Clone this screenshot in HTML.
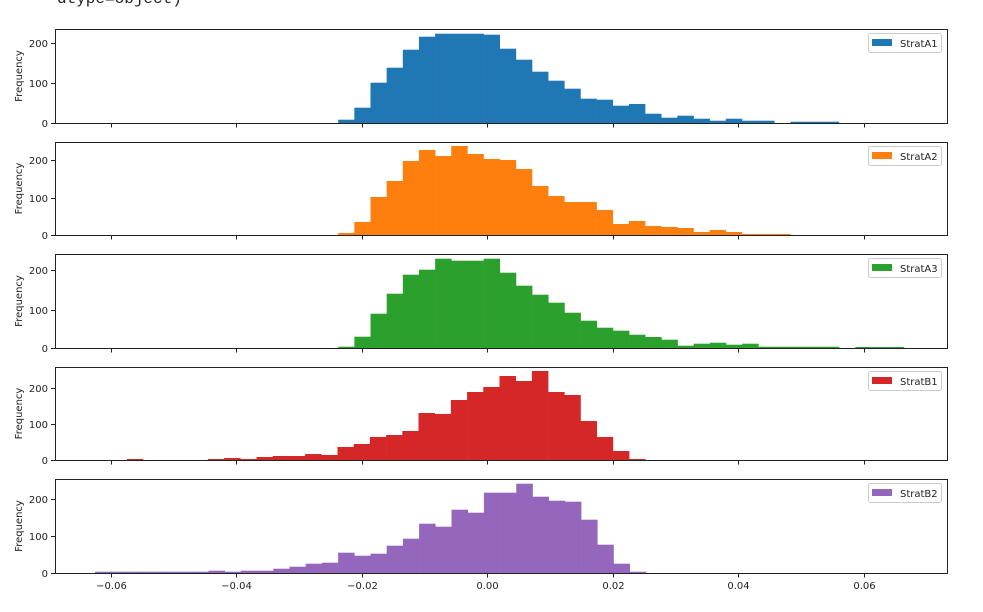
<!DOCTYPE html>
<html><head><meta charset="utf-8"><style>
body{margin:0;background:#fff;}
svg text{font-family:"DejaVu Sans","Liberation Sans",sans-serif;}
</style></head><body>
<svg id="s" width="983" height="607" xmlns="http://www.w3.org/2000/svg">
<text x="57" y="3" style="font-family:'Liberation Mono','DejaVu Sans Mono',monospace" font-size="16" fill="#222">dtype=object)</text>
</svg>
<script>
const s=document.getElementById('s');
const X=v=>487+v*6275;
const P=[
 {t:29,b:123,c:'#1f77b4',n:'StratA1',x0:338.2,w:16.15,y100:83,y200:43,
  h:[3.3,15.3,40.3,55.3,73.3,86.3,89.3,89.3,89.3,88.3,74.3,63.3,51.3,42.3,34.3,24.3,23.3,17.3,19,9.3,5.3,7.3,4.3,2.3,4.3,2.3,2.3,0,1.3,1.3,1.3]},
 {t:142,b:235,c:'#ff7f0e',n:'StratA2',x0:338.2,w:16.15,y100:198,y200:160,
  h:[2,13,38,54,74,85,79,89,81,76,75,66,49,39,33,33,25,11,14,9,8,7,3,5,3,1,1,1]},
 {t:254,b:348,c:'#2ca02c',n:'StratA3',x0:338.2,w:16.16,y100:310,y200:270,
  h:[1.3,11.3,34.3,54.3,73.3,78.3,89.3,87.3,87.3,89.3,75.3,62.3,53.3,45.3,35.3,27.3,20.3,17.3,13.3,11,8.3,2.3,4.3,5.3,3.3,4.3,1.3,1.3,1.3,1.3,1.3,0,1,1,1]},
 {t:367,b:460,c:'#d62728',n:'StratB1',x0:126.9,w:16.2,y100:424,y200:388,
  h:[1,0,0,0,0,1,2,1,3,4,4,6,5,13,16,23,25,29,47,46,60,68,73,84,79,89,68,65,39,23,9,1]},
 {t:479,b:573,c:'#9467bd',n:'StratB2',x0:95.1,w:16.2,y100:536,y200:499,
  h:[1.3,1.3,1.3,1.3,1.3,1.3,1.3,2.3,1.3,2.3,2.3,4.3,6.3,9.3,10.3,20.3,17.3,19.3,27.3,34.3,49.3,46.3,63.3,60.3,80.3,80.3,89.3,76.3,72.3,71.3,53.3,28.3,9.3,1.3]}
];
let out='';
P.forEach((p,i)=>{
 p.h.forEach((h,k)=>{if(h>0)out+=`<rect x="${(p.x0+k*p.w).toFixed(2)}" y="${(p.b-h).toFixed(2)}" width="${(p.w+0.3).toFixed(2)}" height="${h}" fill="${p.c}"/>`;});
 out+=`<rect x="55.5" y="${p.t+.5}" width="892" height="${p.b-p.t}" fill="none" stroke="#222" stroke-width="1"/>`;
 [[p.b,'0'],[p.y100,'100'],[p.y200,'200']].forEach(([y,l])=>{
  out+=`<line x1="51" x2="55.5" y1="${y+.5}" y2="${y+.5}" stroke="#222"/><text x="48" y="${y+4}" font-size="10" text-anchor="end" fill="#222">${l}</text>`;});
 [-0.06,-0.04,-0.02,0,0.02,0.04,0.06].forEach(v=>{
  const x=Math.round(X(v))+.5;
  out+=`<line x1="${x}" x2="${x}" y1="${p.b+.5}" y2="${p.b+4.5}" stroke="#222"/>`;
  if(i==4)out+=`<text x="${x}" y="${p.b+16}" font-size="10" text-anchor="middle" fill="#222">${v==0?'0.00':(v<0?'\u2212':'')+Math.abs(v).toFixed(2)}</text>`;});
 const cy=(p.t+p.b)/2;
 out+=`<text transform="translate(22,${cy}) rotate(-90)" font-size="10" text-anchor="middle" fill="#222">Frequency</text>`;
 const ly=p.t+4;
 out+=`<rect x="868.5" y="${ly+.5}" width="73" height="19" rx="2" fill="#fff" stroke="#ccc"/><rect x="872" y="${ly+6}" width="20" height="7" fill="${p.c}"/><text x="900" y="${ly+14}" font-size="10" fill="#222">${p.n}</text>`;
});
s.insertAdjacentHTML('beforeend',out);
</script>
</body></html>
